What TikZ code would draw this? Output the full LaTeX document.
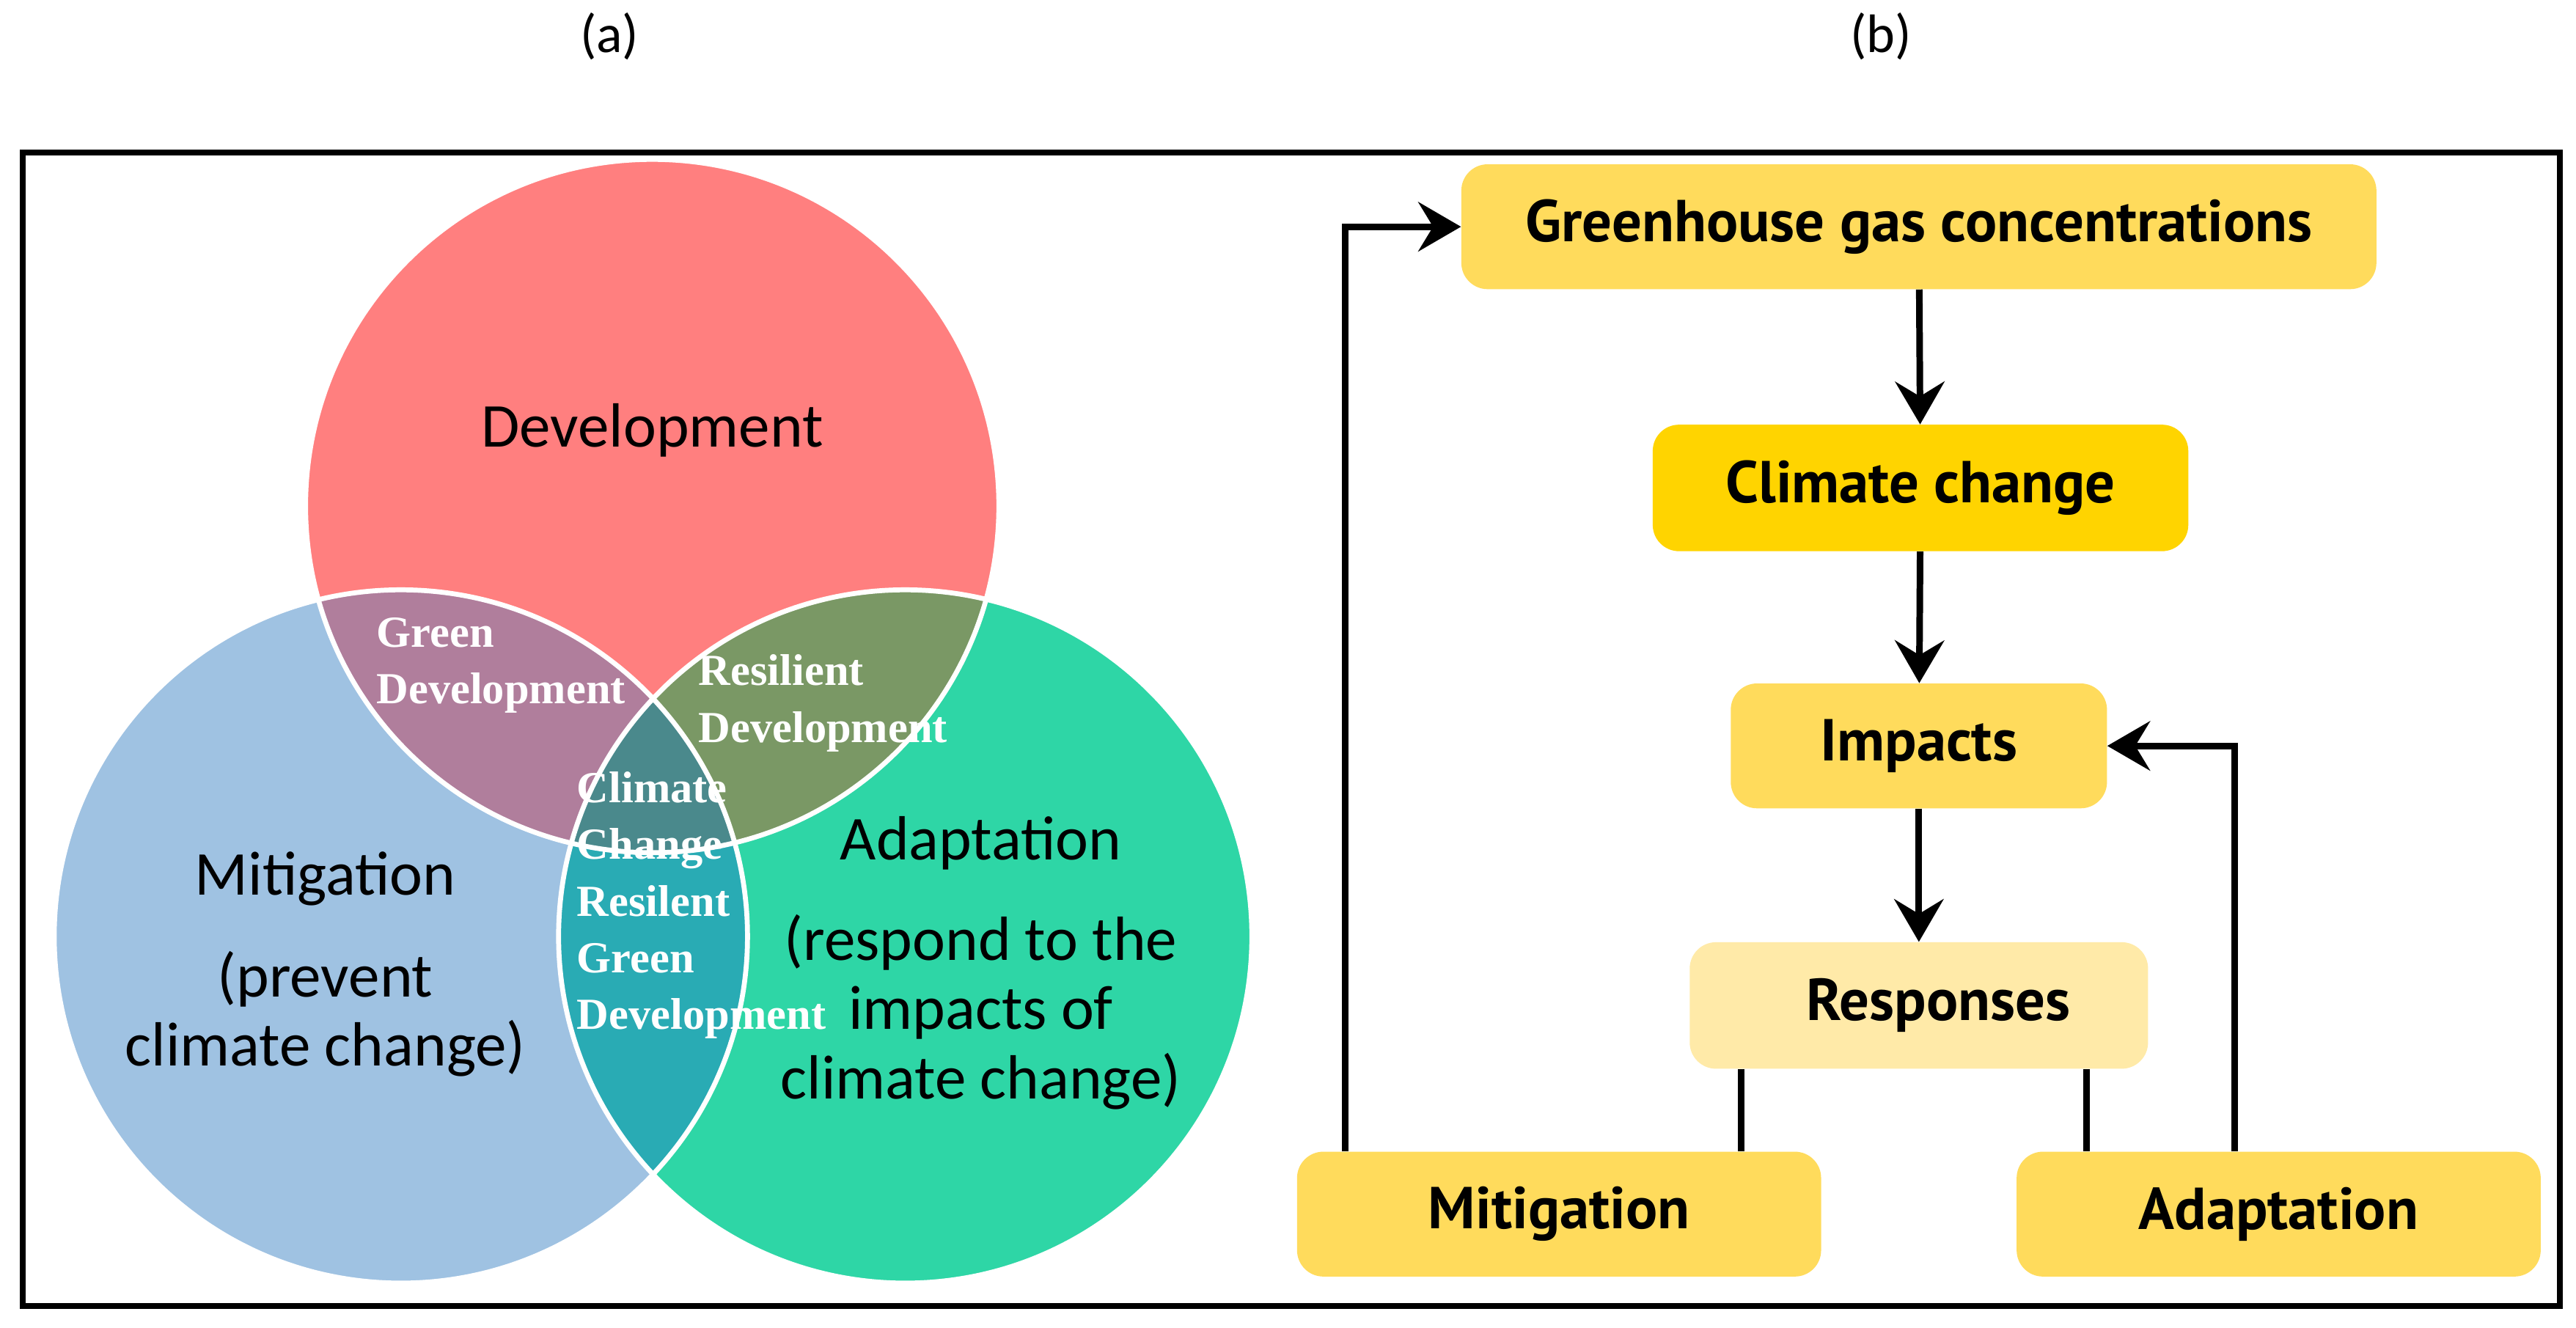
\documentclass[tikz,border=0pt]{standalone}
\usepackage{fontspec}
\usetikzlibrary{arrows.meta}
\newfontfamily\calfont{Carlito}
\newfontfamily\wfont{Liberation Serif}
\newfontfamily\flfont{PT Sans}
\definecolor{cdev}{HTML}{FF7F7F}
\definecolor{cmit}{HTML}{9FC2E2}
\definecolor{cada}{HTML}{2ED6A6}
\definecolor{cdm}{HTML}{B07E9C}
\definecolor{cda}{HTML}{7A9865}
\definecolor{cma}{HTML}{29ABB4}
\definecolor{call}{HTML}{4A898C}
\definecolor{yA}{HTML}{FFDB5C}
\definecolor{yB}{HTML}{FFD400}
\definecolor{yC}{HTML}{FFEAA8}
\tikzset{
 lab/.style={font=\calfont\fontsize{38}{42}\selectfont, align=center},
 wl/.style={font=\wfont\bfseries\fontsize{27}{34.5}\selectfont, text=white, anchor=west, align=left, inner sep=0},
 box/.style={rounded corners=16pt, inner sep=0, font=\flfont\bfseries\fontsize{36}{40}\selectfont},
 ln/.style={line width=4pt},
 ar/.style={ln, -{Stealth[length=26pt,width=30pt,inset=9pt]}},
}
\begin{document}
\begin{tikzpicture}[x=1pt,y=-1pt]
\useasboundingbox (0,0) rectangle (1568,808);
\node[font=\calfont\fontsize{33}{38}\selectfont] (ta) at (371,22) {(a)};
\node[font=\calfont\fontsize{33}{38}\selectfont] (tb) at (1145,22) {(b)};
\draw[line width=3.5pt] (14,93) rectangle (1558,795);
\coordinate (D) at (397,308);
\coordinate (M) at (244,570);
\coordinate (A) at (551,570);
\def\R{211pt}
\fill[cmit] (M) circle[radius=\R];
\fill[cada] (A) circle[radius=\R];
\fill[cdev] (D) circle[radius=\R];
\begin{scope}\clip (D) circle[radius=\R]; \fill[cdm] (M) circle[radius=\R];\end{scope}
\begin{scope}\clip (D) circle[radius=\R]; \fill[cda] (A) circle[radius=\R];\end{scope}
\begin{scope}\clip (M) circle[radius=\R]; \fill[cma] (A) circle[radius=\R];\end{scope}
\begin{scope}\clip (M) circle[radius=\R]; \clip (A) circle[radius=\R]; \fill[call] (D) circle[radius=\R];\end{scope}
\draw[white,line width=3pt] (M) circle[radius=\R] (A) circle[radius=\R] (D) circle[radius=\R];
\node[lab] (ld) at (397,262) {Development};
\node[lab] (lm) at (198,535) {Mitigation};
\node[lab] (lm2) at (198,617) {(prevent\\climate change)};
\node[lab] (la) at (597,513) {Adaptation};
\node[lab] (la2) at (597,616) {(respond to the\\impacts of\\climate change)};
\node[wl] (gd) at (229,405) {Green\\Development};
\node[wl] (rd) at (425,428) {Resilient\\Development};
\node[wl] (cc) at (351,551) {Climate\\Change\\Resilent\\Green\\Development};
% flow chart
\node[box, fill=yA, minimum width=557pt, minimum height=76pt] (g) at (1168,138) {Greenhouse gas concentrations};
\node[box, fill=yB, minimum width=326pt, minimum height=77pt] (c) at (1169,297) {Climate change};
\node[box, fill=yA, minimum width=229pt, minimum height=76pt] (i) at (1168,454) {Impacts};
\node[box, fill=yC, minimum width=279pt, minimum height=77pt] (r) at (1168,612) {\hspace*{24pt}Responses};
\node[box, fill=yA, minimum width=319pt, minimum height=76pt] (m) at (949,739) {Mitigation};
\node[box, fill=yA, minimum width=319pt, minimum height=76pt] (a) at (1387,739) {Adaptation};
\draw[ar] (g) -- (c);
\draw[ar] (c) -- (i);
\draw[ar] (i) -- (r);
\draw[ln] (r.south -| 1060,0) -- (m.north -| 1060,0);
\draw[ln] (r.south -| 1270,0) -- (a.north -| 1270,0);
\draw[ar] (m.north -| 819,0) |- (g.west);
\draw[ar] (a.north -| 1360,0) |- (i.east);
\end{tikzpicture}
\end{document}
